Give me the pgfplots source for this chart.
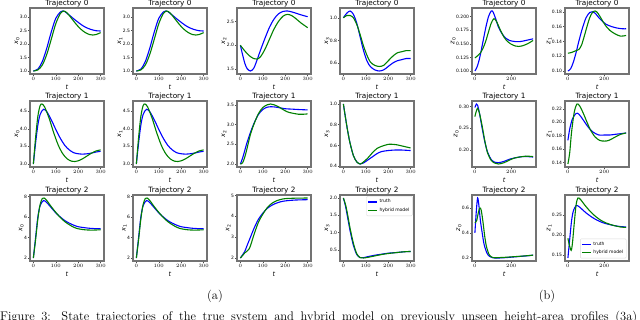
\documentclass[border=0pt]{standalone}
\usepackage{pgfplots}
\pgfplotsset{compat=1.18}
\usepackage{fontspec}
\newfontfamily\dv{DejaVu Sans}[ItalicFont={DejaVu Sans Oblique}]
\newcommand\ticks{\dv\fontsize{4.5}{5}\selectfont}
\newcommand\ttl{\dv\fontsize{7.3}{8}\selectfont}
\newcommand\lblf{\dv\fontsize{6.4}{7}\selectfont}
\newcommand\yl[2]{{\lblf\itshape #1\textsubscript{\upshape #2}}}
\definecolor{mblue}{RGB}{0,0,255}
\definecolor{mgreen}{RGB}{0,128,0}
\definecolor{framegray}{RGB}{115,115,115}
\pgfplotsset{
  every axis title/.style={at={(0.5,1)}, anchor=south, font=\ttl, inner sep=0.3pt, yshift=0.4pt},
  truth/.style={color=mblue, line width=1.1pt, smooth, no marks},
  hyb/.style={color=mgreen, line width=1.1pt, smooth, no marks},
  panel/.style={
    scale only axis, width=74pt, height=66pt,
    xmin=-15, xmax=315, xtick={0,100,200,300},
    enlarge y limits=0.05,
    axis line style={draw=framegray, line width=1.1pt},
    tick style={draw=black!70, line width=0.4pt},
    major tick length=1.6pt,
    tick align=outside, tick pos=left,
    tick label style={font=\ticks},
    xticklabel style={inner sep=1.4pt},
    yticklabel style={inner sep=1.2pt},
    xlabel={{\lblf\itshape t}},
    xlabel style={inner sep=1pt, yshift=-2pt},
    ylabel style={inner sep=1pt, yshift=-2pt},
    legend style={font=\ticks, draw=black!15, rounded corners=1pt, fill=white, inner sep=1pt, row sep=-0.5pt},
    legend cell align=left,
    legend image code/.code={\draw[##1,line width=1.1pt] (0pt,0pt) -- (9pt,0pt);},
    anchor=south west,
  },
  bpanel/.style={panel, width=64pt, xmin=-16, xmax=336, xtick={0,200}},
}
\begin{document}
\begin{tikzpicture}[x=1pt,y=1pt]
\useasboundingbox (0,0) rectangle (640,319);
% ---------------- (a) row 0
\begin{axis}[panel, at={(30pt,245pt)}, title={Trajectory 0}, ylabel={\yl{x}{0}},
  ytick={1.0,1.5,2.0,2.5,3.0}, yticklabels={1.0,1.5,2.0,2.5,3.0}]
\addplot[truth] coordinates {(0,1.00)(20,1.07)(40,1.35)(60,1.85)(80,2.45)(100,2.95)(120,3.18)(130,3.22)(140,3.20)(160,3.07)(180,2.93)(200,2.80)(220,2.68)(240,2.59)(260,2.53)(280,2.49)(300,2.48)};
\addplot[hyb] coordinates {(0,1.00)(20,1.04)(40,1.22)(60,1.62)(80,2.18)(100,2.75)(120,3.12)(135,3.22)(150,3.15)(170,2.95)(190,2.74)(210,2.56)(230,2.43)(250,2.35)(265,2.33)(280,2.35)(300,2.42)};
\end{axis}
\begin{axis}[panel, at={(133pt,245pt)}, title={Trajectory 0}, ylabel={\yl{x}{1}},
  ytick={1.0,1.5,2.0,2.5,3.0}, yticklabels={1.0,1.5,2.0,2.5,3.0}]
\addplot[truth] coordinates {(0,1.00)(20,1.07)(40,1.35)(60,1.85)(80,2.45)(100,2.95)(120,3.18)(130,3.22)(140,3.20)(160,3.07)(180,2.93)(200,2.80)(220,2.68)(240,2.59)(260,2.53)(280,2.49)(300,2.48)};
\addplot[hyb] coordinates {(0,1.00)(20,1.04)(40,1.22)(60,1.62)(80,2.18)(100,2.75)(120,3.12)(135,3.22)(150,3.15)(170,2.95)(190,2.74)(210,2.56)(230,2.43)(250,2.35)(265,2.33)(280,2.35)(300,2.42)};
\end{axis}
\begin{axis}[panel, at={(237pt,245pt)}, title={Trajectory 0}, ylabel={\yl{x}{2}},
  ytick={1.5,2.0,2.5}, yticklabels={1.5,2.0,2.5}]
\addplot[truth] coordinates {(0,2.00)(10,1.80)(20,1.62)(30,1.51)(45,1.46)(60,1.52)(75,1.70)(90,1.90)(110,2.15)(130,2.38)(150,2.55)(170,2.66)(190,2.71)(210,2.72)(230,2.70)(250,2.67)(270,2.64)(300,2.60)};
\addplot[hyb] coordinates {(0,2.00)(20,1.88)(40,1.78)(60,1.72)(75,1.71)(90,1.76)(110,1.92)(130,2.13)(150,2.34)(170,2.50)(190,2.61)(210,2.65)(230,2.62)(250,2.55)(270,2.47)(300,2.37)};
\end{axis}
\begin{axis}[panel, at={(340pt,245pt)}, title={Trajectory 0}, ylabel={\yl{x}{3}},
  ytick={0.6,0.8,1.0}, yticklabels={0.6,0.8,1.0}]
\addplot[truth] coordinates {(0,1.00)(15,1.04)(30,1.06)(45,1.03)(60,0.95)(75,0.83)(90,0.71)(105,0.62)(120,0.57)(140,0.54)(160,0.53)(180,0.54)(200,0.57)(220,0.60)(240,0.62)(260,0.63)(280,0.64)(300,0.64)};
\addplot[hyb] coordinates {(0,1.00)(15,1.02)(30,1.02)(45,1.00)(60,0.94)(75,0.85)(90,0.75)(105,0.67)(120,0.61)(140,0.58)(160,0.57)(180,0.58)(200,0.62)(220,0.66)(240,0.69)(260,0.70)(280,0.71)(300,0.71)};
\end{axis}
% ---------------- (a) row 1
\begin{axis}[panel, at={(30pt,152pt)}, title={Trajectory 1}, ylabel={\yl{x}{0}},
  ytick={3.0,3.5,4.0,4.5}, yticklabels={3.0,3.5,4.0,4.5}]
\addplot[truth] coordinates {(0,3.0)(10,3.6)(20,4.1)(30,4.4)(45,4.55)(60,4.48)(80,4.25)(100,3.98)(120,3.73)(140,3.53)(160,3.40)(180,3.32)(200,3.29)(220,3.28)(240,3.29)(260,3.31)(280,3.34)(300,3.36)};
\addplot[hyb] coordinates {(0,3.0)(10,3.75)(20,4.35)(30,4.65)(38,4.70)(50,4.62)(70,4.30)(90,3.90)(110,3.55)(130,3.30)(150,3.15)(170,3.08)(185,3.07)(200,3.09)(220,3.15)(240,3.23)(260,3.31)(280,3.37)(300,3.40)};
\end{axis}
\begin{axis}[panel, at={(133pt,152pt)}, title={Trajectory 1}, ylabel={\yl{x}{1}},
  ytick={3.0,3.5,4.0,4.5}, yticklabels={3.0,3.5,4.0,4.5}]
\addplot[truth] coordinates {(0,3.0)(10,3.6)(20,4.1)(30,4.4)(45,4.55)(60,4.48)(80,4.25)(100,3.98)(120,3.73)(140,3.53)(160,3.40)(180,3.32)(200,3.29)(220,3.28)(240,3.29)(260,3.31)(280,3.34)(300,3.36)};
\addplot[hyb] coordinates {(0,3.0)(10,3.75)(20,4.35)(30,4.65)(38,4.70)(50,4.62)(70,4.30)(90,3.90)(110,3.55)(130,3.30)(150,3.15)(170,3.08)(185,3.07)(200,3.09)(220,3.15)(240,3.23)(260,3.31)(280,3.37)(300,3.40)};
\end{axis}
\begin{axis}[panel, at={(237pt,152pt)}, title={Trajectory 1}, ylabel={\yl{x}{2}},
  ytick={2.0,2.5,3.0,3.5}, yticklabels={2.0,2.5,3.0,3.5}]
\addplot[truth] coordinates {(0,2.00)(10,2.15)(20,2.35)(30,2.55)(45,2.80)(60,3.02)(80,3.25)(100,3.38)(120,3.44)(140,3.45)(160,3.44)(180,3.42)(200,3.40)(230,3.39)(260,3.38)(300,3.37)};
\addplot[hyb] coordinates {(0,2.00)(10,2.03)(20,2.18)(30,2.40)(45,2.75)(60,3.00)(80,3.27)(100,3.43)(120,3.50)(135,3.52)(150,3.50)(170,3.45)(190,3.38)(210,3.32)(230,3.29)(260,3.26)(280,3.26)(300,3.27)};
\end{axis}
\begin{axis}[panel, at={(340pt,152pt)}, title={Trajectory 1}, ylabel={\yl{x}{3}},
  ytick={0.4,0.6,0.8,1.0}, yticklabels={0.4,0.6,0.8,1.0}]
\addplot[truth] coordinates {(0,1.00)(10,0.86)(20,0.73)(30,0.62)(45,0.50)(60,0.44)(75,0.42)(90,0.43)(110,0.46)(130,0.49)(150,0.52)(170,0.54)(200,0.55)(230,0.555)(260,0.555)(300,0.55)};
\addplot[hyb] coordinates {(0,1.00)(10,0.86)(20,0.73)(30,0.62)(45,0.50)(60,0.44)(75,0.42)(90,0.44)(110,0.48)(130,0.53)(150,0.57)(170,0.59)(200,0.61)(220,0.61)(240,0.605)(270,0.59)(300,0.575)};
\end{axis}
% ---------------- (a) row 2
\begin{axis}[panel, at={(30pt,58pt)}, title={Trajectory 2}, ylabel={\yl{x}{0}},
  ytick={2,4,6,8}, yticklabels={2,4,6,8}]
\addplot[truth] coordinates {(0,2.0)(10,4.0)(20,6.0)(30,7.1)(45,7.6)(60,7.4)(80,6.9)(100,6.4)(120,6.0)(140,5.65)(160,5.4)(180,5.2)(200,5.05)(230,4.95)(260,4.88)(300,4.85)};
\addplot[hyb] coordinates {(0,2.0)(10,3.8)(20,5.8)(30,7.2)(40,7.8)(48,7.85)(60,7.6)(80,7.0)(100,6.45)(120,5.95)(140,5.55)(160,5.25)(180,5.0)(200,4.85)(230,4.75)(260,4.72)(300,4.75)};
\end{axis}
\begin{axis}[panel, at={(133pt,58pt)}, title={Trajectory 2}, ylabel={\yl{x}{1}},
  ytick={2,4,6,8}, yticklabels={2,4,6,8}]
\addplot[truth] coordinates {(0,2.0)(10,4.0)(20,6.0)(30,7.1)(45,7.6)(60,7.4)(80,6.9)(100,6.4)(120,6.0)(140,5.65)(160,5.4)(180,5.2)(200,5.05)(230,4.95)(260,4.88)(300,4.85)};
\addplot[hyb] coordinates {(0,2.0)(10,3.8)(20,5.8)(30,7.2)(40,7.8)(48,7.85)(60,7.6)(80,7.0)(100,6.45)(120,5.95)(140,5.55)(160,5.25)(180,5.0)(200,4.85)(230,4.75)(260,4.72)(300,4.75)};
\end{axis}
\begin{axis}[panel, at={(237pt,58pt)}, title={Trajectory 2}, ylabel={\yl{x}{2}},
  ytick={2,3,4,5}, yticklabels={2,3,4,5}]
\addplot[truth] coordinates {(0,2.0)(10,2.15)(20,2.32)(30,2.6)(45,3.0)(60,3.4)(80,3.85)(100,4.15)(120,4.38)(140,4.53)(160,4.63)(180,4.70)(200,4.74)(240,4.78)(300,4.80)};
\addplot[hyb] coordinates {(0,2.0)(10,2.12)(20,2.25)(30,2.33)(40,2.45)(50,2.75)(60,3.1)(80,3.7)(100,4.1)(120,4.42)(140,4.62)(160,4.74)(180,4.81)(200,4.85)(240,4.87)(300,4.88)};
\end{axis}
\begin{axis}[panel, at={(340pt,58pt)}, title={Trajectory 2}, ylabel={\yl{x}{3}},
  ytick={0.5,1.0,1.5,2.0}, yticklabels={0.5,1.0,1.5,2.0},
  legend style={at={(0.98,0.98)}, anchor=north east}]
\addplot[truth] coordinates {(0,2.0)(10,1.75)(20,1.40)(30,1.05)(45,0.62)(60,0.36)(75,0.27)(90,0.27)(110,0.30)(140,0.34)(170,0.37)(200,0.40)(240,0.42)(270,0.44)(300,0.45)};
\addplot[hyb] coordinates {(0,2.0)(10,1.80)(20,1.48)(30,1.12)(45,0.68)(60,0.38)(75,0.27)(90,0.26)(110,0.28)(140,0.32)(170,0.36)(200,0.39)(240,0.42)(270,0.44)(300,0.45)};
\legend{truth, hybrid model}
\end{axis}
% ---------------- (b) row 0
\begin{axis}[bpanel, at={(472pt,245pt)}, title={Trajectory 0}, ylabel={\yl{z}{0}},
  ytick={0.100,0.125,0.150,0.175,0.200}, yticklabels={0.100,0.125,0.150,0.175,0.200}]
\addplot[truth] coordinates {(0,0.100)(10,0.106)(20,0.116)(30,0.130)(45,0.155)(60,0.180)(75,0.200)(90,0.210)(100,0.208)(115,0.195)(130,0.180)(150,0.168)(170,0.160)(190,0.156)(220,0.154)(250,0.154)(280,0.156)(320,0.159)};
\addplot[hyb] coordinates {(0,0.124)(15,0.128)(30,0.133)(45,0.142)(60,0.155)(75,0.172)(90,0.188)(105,0.196)(120,0.190)(140,0.175)(160,0.162)(180,0.154)(200,0.149)(220,0.146)(240,0.145)(260,0.146)(290,0.150)(320,0.156)};
\end{axis}
\begin{axis}[bpanel, at={(565pt,245pt)}, title={Trajectory 0}, ylabel={\yl{z}{1}},
  ytick={0.10,0.12,0.14,0.16,0.18}, yticklabels={0.10,0.12,0.14,0.16,0.18}]
\addplot[truth] coordinates {(0,0.100)(15,0.103)(30,0.112)(45,0.125)(60,0.140)(80,0.158)(100,0.172)(120,0.179)(135,0.180)(150,0.178)(170,0.172)(190,0.167)(210,0.163)(240,0.160)(270,0.158)(300,0.157)(320,0.157)};
\addplot[hyb] coordinates {(0,0.124)(20,0.125)(40,0.127)(60,0.129)(75,0.135)(90,0.147)(105,0.160)(120,0.172)(135,0.179)(150,0.181)(165,0.178)(185,0.170)(205,0.162)(230,0.155)(260,0.150)(290,0.147)(320,0.148)};
\end{axis}
% ---------------- (b) row 1
\begin{axis}[bpanel, at={(472pt,152pt)}, title={Trajectory 1}, ylabel={\yl{z}{0}},
  ytick={0.20,0.25,0.30}, yticklabels={0.20,0.25,0.30}]
\addplot[truth] coordinates {(0,0.298)(8,0.306)(15,0.303)(25,0.285)(40,0.250)(55,0.218)(70,0.195)(90,0.178)(110,0.172)(130,0.171)(160,0.174)(190,0.179)(220,0.182)(260,0.185)(290,0.185)(320,0.184)};
\addplot[hyb] coordinates {(0,0.277)(8,0.290)(15,0.296)(25,0.285)(40,0.255)(55,0.220)(70,0.193)(90,0.176)(110,0.170)(130,0.168)(160,0.171)(190,0.177)(220,0.182)(260,0.185)(290,0.186)(320,0.185)};
\end{axis}
\begin{axis}[bpanel, at={(565pt,152pt)}, title={Trajectory 1}, ylabel={\yl{z}{1}},
  ytick={0.14,0.16,0.18,0.20,0.22}, yticklabels={0.14,0.16,0.18,0.20,0.22}]
\addplot[truth] coordinates {(0,0.173)(10,0.190)(25,0.205)(45,0.213)(60,0.212)(80,0.205)(100,0.197)(120,0.190)(140,0.185)(170,0.181)(200,0.181)(230,0.181)(260,0.182)(290,0.183)(320,0.184)};
\addplot[hyb] coordinates {(0,0.138)(10,0.155)(20,0.185)(35,0.215)(50,0.227)(65,0.224)(85,0.213)(105,0.200)(125,0.188)(150,0.178)(175,0.173)(200,0.172)(225,0.173)(260,0.178)(290,0.182)(320,0.184)};
\end{axis}
% ---------------- (b) row 2
\begin{axis}[bpanel, at={(472pt,58pt)}, title={Trajectory 2}, ylabel={\yl{z}{0}},
  ytick={0.2,0.4,0.6}, yticklabels={0.2,0.4,0.6}]
\addplot[truth] coordinates {(0,0.40)(8,0.58)(15,0.68)(22,0.62)(30,0.50)(40,0.40)(50,0.31)(65,0.24)(80,0.21)(100,0.198)(130,0.197)(170,0.200)(210,0.205)(250,0.210)(290,0.215)(320,0.22)};
\addplot[hyb] coordinates {(0,0.48)(10,0.50)(20,0.57)(28,0.60)(35,0.58)(45,0.48)(55,0.36)(65,0.28)(80,0.22)(100,0.200)(130,0.200)(170,0.203)(210,0.207)(250,0.211)(290,0.216)(320,0.22)};
\end{axis}
\begin{axis}[bpanel, at={(565pt,58pt)}, title={Trajectory 2}, ylabel={\yl{z}{1}},
  ytick={0.15,0.20,0.25,0.30}, yticklabels={0.15,0.20,0.25,0.30},
  legend style={at={(0.96,0.04)}, anchor=south east}]
\addplot[truth] coordinates {(0,0.143)(10,0.190)(20,0.235)(30,0.260)(45,0.273)(60,0.271)(80,0.263)(100,0.255)(130,0.245)(160,0.237)(190,0.231)(220,0.227)(260,0.223)(290,0.221)(320,0.220)};
\addplot[hyb] coordinates {(0,0.192)(8,0.175)(18,0.162)(25,0.180)(35,0.230)(45,0.275)(55,0.292)(70,0.288)(90,0.276)(120,0.260)(150,0.247)(180,0.237)(210,0.230)(250,0.224)(290,0.220)(320,0.219)};
\legend{truth, hybrid model}
\end{axis}
% ---------------- captions
\node[font=\fontsize{12.5}{15}\selectfont] at (215,23) {(a)};
\node[font=\fontsize{12.5}{15}\selectfont] at (547,23) {(b)};
\node[anchor=base west, inner sep=0pt] at (0,-1.2)
  {\fontsize{12.5}{15}\selectfont\hbox to 637pt{Figure 3: State trajectories of the true system and hybrid model on previously unseen height-area profiles (3a)}};
\end{tikzpicture}
\end{document}
